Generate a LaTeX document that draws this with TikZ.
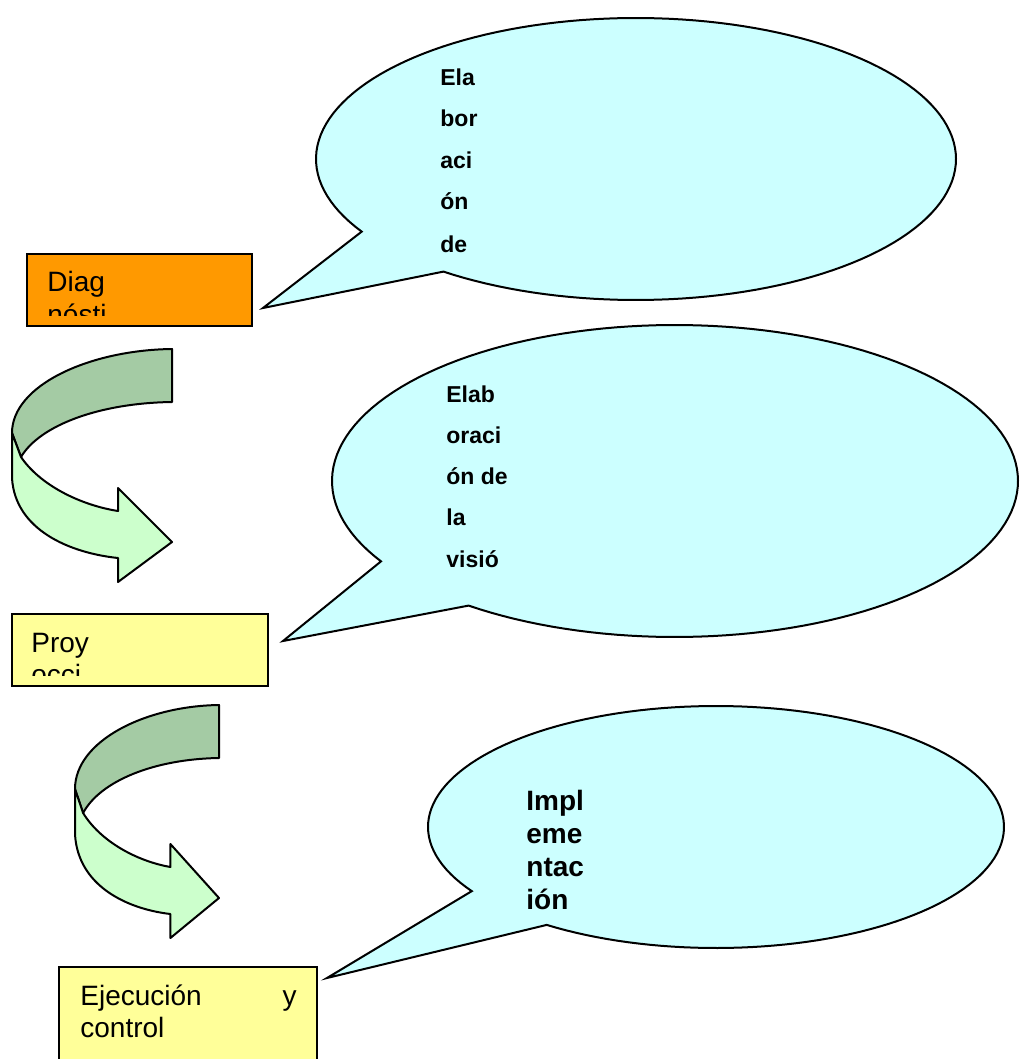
\documentclass[tikz,border=0pt]{standalone}
\usepackage{fontspec}
\setmainfont{Liberation Sans}
\definecolor{celeste}{HTML}{CCFFFF}
\definecolor{naranja}{HTML}{FF9900}
\definecolor{amarillo}{HTML}{FFFF99}
\definecolor{verdeosc}{HTML}{A4CBA4}
\definecolor{verdecla}{HTML}{CCFFCC}
\newcommand{\vueltaflecha}{%
  \filldraw[fill=verdeosc,line width=1pt,line join=round] (160,0) .. controls (78,1) and (0,36) .. (0,84) -- (9,108) .. controls (28,76) and (88,54) .. (160,53) -- cycle;
  \filldraw[fill=verdecla,line width=1pt,line join=round] (0,84) -- (0,129) .. controls (3,181) and (58,204) .. (106,209) -- (106,233) -- (160,193) -- (106,139) -- (106,162) .. controls (68,156) and (28,136) .. (9,108) -- cycle;
}

\begin{document}
\begin{tikzpicture}[x=0.5pt,y=-0.5pt]
\tikzstyle{caja}=[draw=black,line width=1.2pt]
\tikzstyle{globo}=[draw=black,line width=1pt,fill=celeste,line join=miter]
\tikzstyle{texto}=[anchor=base west,inner sep=0pt,font=\fontsize{14}{16}\selectfont]
\tikzstyle{nube}=[anchor=base west,inner sep=0pt,font=\bfseries\fontsize{11.5}{13}\selectfont]
\tikzstyle{grande}=[anchor=base west,inner sep=0pt,font=\bfseries\fontsize{14}{16}\selectfont]
\useasboundingbox (0,0) rectangle (1019,1059);
% globos
\coordinate (punta1) at (263,308);
\coordinate (punta2) at (283,641);
\coordinate (punta3) at (327,978);
\filldraw[globo] plot[domain=149:487,samples=150] ({636+320*cos(\x)},{159+141*sin(\x)}) -- (punta1) -- cycle;
\filldraw[globo] plot[domain=149:487,samples=150] ({675+343*cos(\x)},{481+156*sin(\x)}) -- (punta2) -- cycle;
\filldraw[globo] plot[domain=148:486,samples=150] ({716+288*cos(\x)},{827+121*sin(\x)}) -- (punta3) -- cycle;
\node [nube] (e1) at (440,86) {Ela};
\node [nube] (e2) at (440,127) {bor};
\node [nube] (e3) at (440,169) {aci};
\node [nube] (e4) at (440,210) {ón};
\node [nube] (e5) at (440,252) {de};
\node [nube] (v1) at (446,402) {Elab};
\node [nube] (v2) at (446,443) {oraci};
\node [nube] (v3) at (446,484) {ón de};
\node [nube] (v4) at (446,525) {la};
\node [nube] (v5) at (446,567) {visió};
\node [grande] (i1) at (526,810) {Impl};
\node [grande] (i2) at (526,843) {eme};
\node [grande] (i3) at (526,876) {ntac};
\node [grande] (i4) at (526,909) {ión};
% cajas
\draw [caja,fill=naranja] (27,254) rectangle (252,326);
\begin{scope}
\clip (27,256) rectangle (252,315);
\node [texto] (diag) at (47,292) {Diag};
\node [texto] (diag2) at (47,324) {nósti};
\end{scope}
\draw [caja,fill=amarillo] (12,614) rectangle (268,686);
\begin{scope}
\clip (12,616) rectangle (268,675);
\node [texto] (proy) at (31,652) {Proy};
\node [texto] (proy2) at (31,684) {occi};
\end{scope}
\draw [caja,fill=amarillo] (59,967) rectangle (317,1080);
\node [texto] (ejec) at (80,1005) {Ejecución};
\node [texto,anchor=base east] (ejecy) at (297,1005) {y};
\node [texto] (ejec2) at (80,1037) {control};
% flechas
\begin{scope}[shift={(12,349)}]
\vueltaflecha
\end{scope}
\begin{scope}[shift={(75,705)},xscale=0.9]
\vueltaflecha
\end{scope}
\end{tikzpicture}
\end{document}
